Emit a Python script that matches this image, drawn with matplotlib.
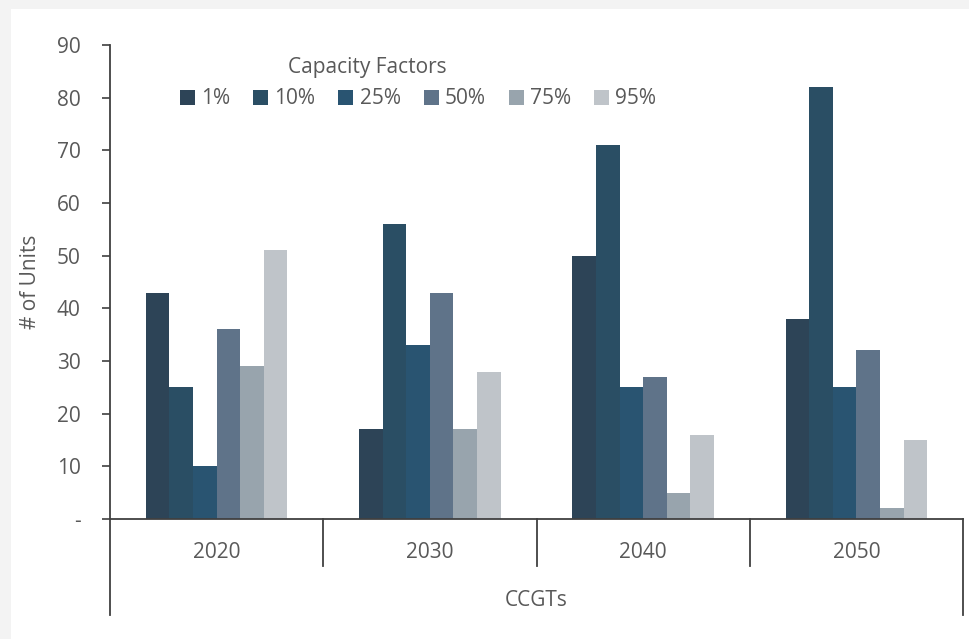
import numpy as np
import matplotlib.pyplot as plt
from matplotlib.patches import Rectangle
from matplotlib.ticker import FuncFormatter
import matplotlib.transforms as mtransforms

plt.rcParams['font.family'] = ['Open Sans', 'DejaVu Sans']

years = ['2020', '2030', '2040', '2050']
factors = ['1%', '10%', '25%', '50%', '75%', '95%']
units_1 = [43, 17, 50, 38]
units_10 = [25, 56, 71, 82]
units_25 = [10, 33, 25, 25]
units_50 = [36, 43, 27, 32]
units_75 = [29, 17, 5, 2]
units_95 = [51, 28, 16, 15]
series = [units_1, units_10, units_25, units_50, units_75, units_95]
colors = ['#2d4457', '#2a4e64', '#295471', '#5f7389', '#98a4ad', '#bfc4c9']

TEXT = '#595959'
LINE = '#404040'
FS = 15

W, H = 969, 639
fig = plt.figure(figsize=(W / 100, H / 100), dpi=100, facecolor='#f3f3f3')
# white page; faint grey margin only on the left and top, as in the screenshot
fig.patches.append(Rectangle((11 / W, 0), 1 - 11 / W, 1 - 9 / H,
                             transform=fig.transFigure, facecolor='white',
                             edgecolor='none', zorder=-10))

ax = fig.add_axes([110 / W, 1 - 519 / H, (963 - 110) / W, (519 - 45) / H])
ax.set_facecolor('none')

x = np.arange(len(years))
w = 0.1105
for i, (vals, c, lab) in enumerate(zip(series, colors, factors)):
    ax.bar(x + (i - 2.5) * w, vals, width=w, color=c, label=lab, zorder=2)

ax.set_xlim(-0.5, 3.5)
ax.set_ylim(0, 90)
ax.set_yticks(np.arange(0, 91, 10))
ax.yaxis.set_major_formatter(FuncFormatter(lambda v, p: '-' if v == 0 else f'{v:.0f}'))
ax.tick_params(axis='y', direction='out', length=6, width=1.2, color=LINE,
               labelsize=FS, labelcolor=TEXT, pad=15)
ax.set_xticks([])

for s in ['top', 'right']:
    ax.spines[s].set_visible(False)
for s in ['left', 'bottom']:
    ax.spines[s].set_color(LINE)
    ax.spines[s].set_linewidth(1.3)

# category axis: year separators and outer group box
trans = mtransforms.blended_transform_factory(ax.transData, ax.transAxes)
for xs in [0.5, 1.5, 2.5]:
    ax.plot([xs, xs], [0, -47 / 474], color=LINE, lw=1.3, transform=trans, clip_on=False)
for xs in [-0.5, 3.5]:
    ax.plot([xs, xs], [0, -96 / 474], color=LINE, lw=1.3, transform=trans, clip_on=False)
for xi, yr in zip(x, years):
    ax.text(xi, -33 / 474, yr, transform=trans, ha='center', va='center',
            fontsize=FS, color=TEXT)
ax.text(1.5, -81 / 474, 'CCGTs', transform=trans, ha='center', va='center',
        fontsize=FS, color=TEXT)

fig.text(30 / W, 1 - 282 / H, '# of Units', rotation=90, ha='center', va='center',
         fontsize=FS, color=TEXT)

fig.text(367 / W, 1 - 67 / H, 'Capacity Factors', ha='center', va='center',
         fontsize=FS, color=TEXT)
fig.legend(loc='center left', bbox_to_anchor=(180 / W, 1 - 99 / H), ncol=6,
           frameon=False, fontsize=FS, labelcolor=TEXT, handlelength=0.72,
           handleheight=0.72, handletextpad=0.3, columnspacing=1.1,
           borderpad=0, borderaxespad=0)

fig.savefig('out.png', dpi=100, facecolor=fig.get_facecolor())
